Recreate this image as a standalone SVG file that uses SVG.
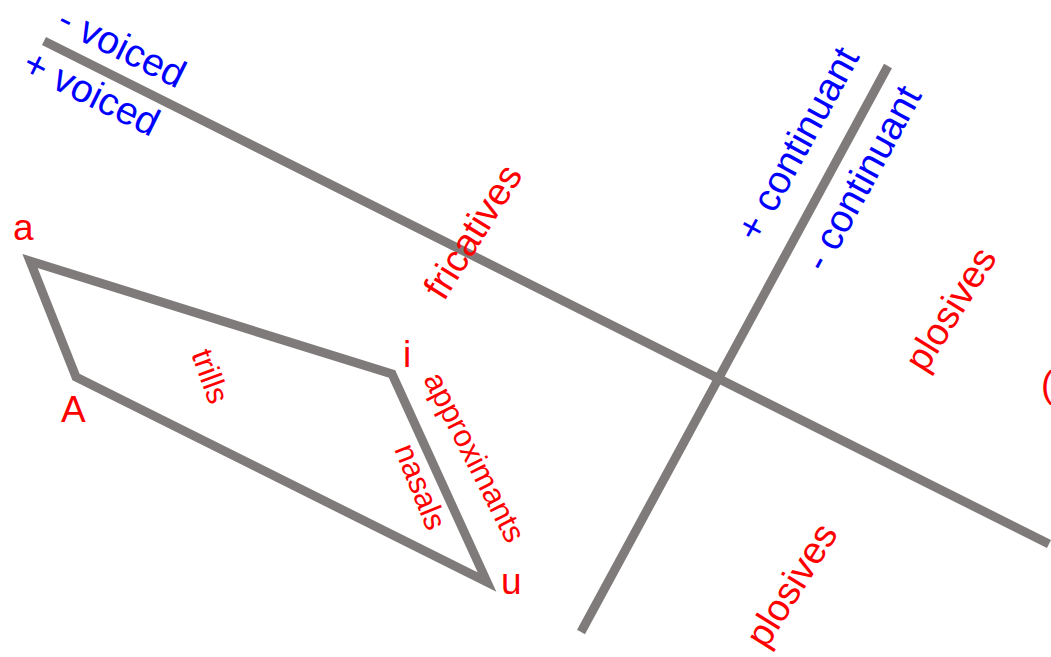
<svg xmlns="http://www.w3.org/2000/svg" width="1051" height="657" viewBox="0 0 1051 657">
<style>
.ln{stroke:#7f7b7b;stroke-width:9;fill:none}
.b{fill:#0000ff;font-family:"Liberation Sans",Arial,sans-serif;font-size:39px}
.r{fill:#ff0000;font-family:"Liberation Sans",Arial,sans-serif}
.big{font-size:38px}
.let{font-size:37px}
.sm{font-size:31px}
</style>
<rect width="1051" height="657" fill="#ffffff"/>
<g id="connectors">
<line class="ln" x1="44" y1="41" x2="1049" y2="544"/>
<line class="ln" x1="888" y1="66" x2="581" y2="632"/>
</g>
<g id="vowel-quad">
<polygon class="ln" points="30,261 392,374 487,582 76,377"/>
</g>
<g id="voiced-labels">
<text class="b" transform="translate(55,28) rotate(26.5)">- voiced</text>
<text class="b" transform="translate(20,72) rotate(26.5)">+ voiced</text>
</g>
<g id="continuant-labels">
<text class="b" transform="translate(758,244) rotate(-61.4)">+ continuant</text>
<text class="b" transform="translate(825,274) rotate(-61.4)">- continuant</text>
</g>
<g id="vowel-labels">
<text class="r let" x="13" y="240">a</text>
<text class="r let" x="61" y="422">A</text>
<text class="r let" x="403" y="367">i</text>
<text class="r let" x="501" y="594">u</text>
</g>
<g id="class-labels">
<text class="r big" transform="translate(444,302) rotate(-58)">fricatives</text>
<text class="r big" transform="translate(925,374) rotate(-58)">plosives</text>
<text class="r big" transform="translate(766,650) rotate(-58)">plosives</text>
<text class="r sm" transform="translate(191,354) rotate(70)">trills</text>
<text class="r sm" transform="translate(423,379) rotate(63)">approximants</text>
<text class="r sm" transform="translate(394,449) rotate(68)">nasals</text>
<text class="r let" x="1041" y="397">(</text>
</g>
</svg>
